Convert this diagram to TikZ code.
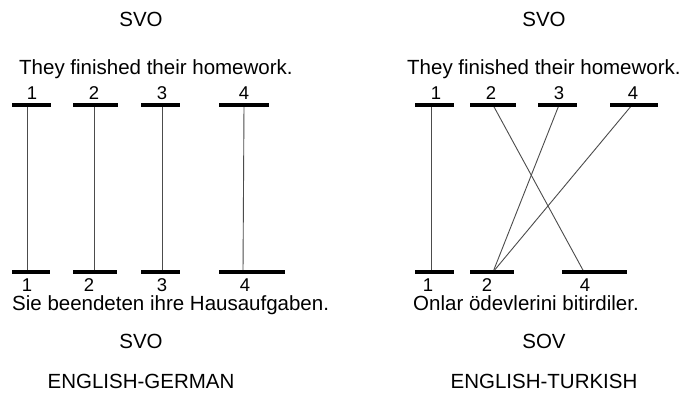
\documentclass[tikz,border=0pt]{standalone}
\usepackage{fontspec}
\setmainfont{Liberation Sans}
\begin{document}
\begin{tikzpicture}[x=1pt,y=-1pt,
  txt/.style={anchor=base,inner sep=0pt,font=\fontsize{20.5}{24}\selectfont},
  num/.style={anchor=base,inner sep=0pt,font=\fontsize{18.5}{20}\selectfont},
  bar/.style={line width=4pt,black},
  link/.style={line width=0.9pt,black!70}]
\useasboundingbox[fill=white] (0,0) rectangle (680,398);

% ---------- headings ----------
\node[txt] (ltop) at (141,27) {SVO};
\node[txt] (rtop) at (544,27) {SVO};
\node[txt] (lbot) at (141,348) {SVO};
\node[txt] (rbot) at (544,348) {SOV};
\node[txt] (lname) at (141,388) {ENGLISH-GERMAN};
\node[txt] (rname) at (544,388) {ENGLISH-TURKISH};

% ---------- sentences ----------
\node[txt,anchor=base west] (len) at (19,75) {They finished their homework.};
\node[txt,anchor=base west] (ren) at (407,75) {They finished their homework.};
\node[txt,anchor=base west] (lde) at (12,310) {Sie beendeten ihre Hausaufgaben.};
\node[txt,anchor=base west] (rtr) at (413,310) {Onlar ödevlerini bitirdiler.};

% ---------- attachment points on the word bars ----------
% English-German
\coordinate (gt1) at (27,105);  \coordinate (gb1) at (27,272);
\coordinate (gt2) at (94,105);  \coordinate (gb2) at (94,272);
\coordinate (gt3) at (162,105); \coordinate (gb3) at (162,272);
\coordinate (gt4) at (244,105); \coordinate (gb4) at (243,272);
% English-Turkish
\coordinate (tt1) at (431,105); \coordinate (tb1) at (431,272);
\coordinate (tt2) at (493,105); \coordinate (tb2) at (493,272);
\coordinate (tt3) at (559,105); \coordinate (tb4) at (584,272);
\coordinate (tt4) at (632,105);

% ---------- word links ----------
\draw[link] (gt1) -- (gb1);
\draw[link] (gt2) -- (gb2);
\draw[link] (gt3) -- (gb3);
\draw[link] (gt4) -- (gb4);
\draw[link] (tt1) -- (tb1);
\draw[link] (tt2) -- (tb4);
\draw[link] (tt3) -- (tb2);
\draw[link] (tt4) -- (tb2);

% ---------- word bars ----------
\draw[bar] (12,105) -- (51,105);  \draw[bar] (12,272) -- (50,272);
\draw[bar] (73,105) -- (118,105); \draw[bar] (73,272) -- (117,272);
\draw[bar] (141,105) -- (180,105);\draw[bar] (141,272) -- (180,272);
\draw[bar] (219,105) -- (269,105);\draw[bar] (219,272) -- (285,272);

\draw[bar] (415,105) -- (454,105); \draw[bar] (415,272) -- (454,272);
\draw[bar] (470,105) -- (516,105); \draw[bar] (470,272) -- (514,272);
\draw[bar] (538,105) -- (577,105); \draw[bar] (562,272) -- (627,272);
\draw[bar] (610,105) -- (658,105);

% ---------- word numbers ----------
\node[num] (gn1) at (32,100) {1};
\node[num] (gn2) at (94,100) {2};
\node[num] (gn3) at (162,100) {3};
\node[num] (gn4) at (244,100) {4};
\node[num] (gm1) at (27,291) {1};
\node[num] (gm2) at (89,291) {2};
\node[num] (gm3) at (162,291) {3};
\node[num] (gm4) at (245,291) {4};

\node[num] (tn1) at (436,100) {1};
\node[num] (tn2) at (491,100) {2};
\node[num] (tn3) at (559,100) {3};
\node[num] (tn4) at (633,100) {4};
\node[num] (tm1) at (428,291) {1};
\node[num] (tm2) at (487,291) {2};
\node[num] (tm4) at (585,291) {4};
\end{tikzpicture}
\end{document}
